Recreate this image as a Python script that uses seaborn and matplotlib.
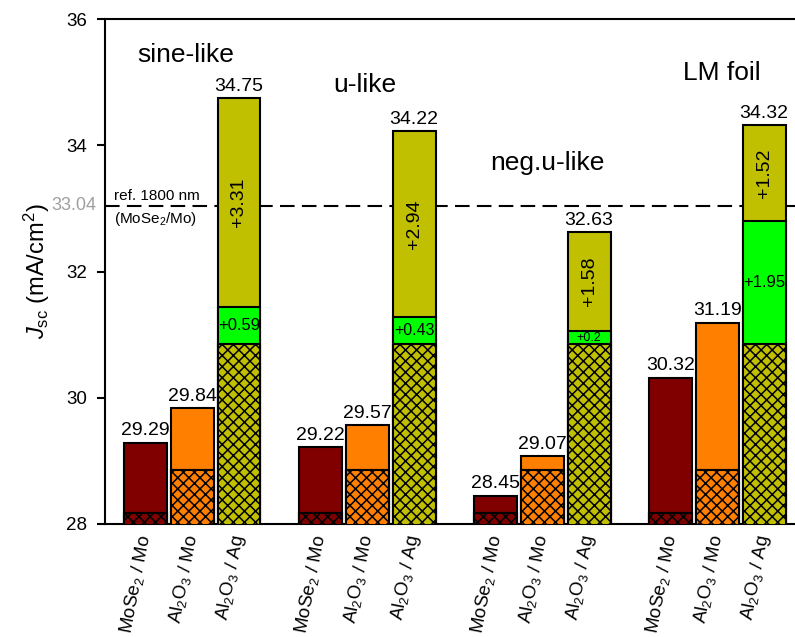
import numpy as np
import pandas as pd
import matplotlib
matplotlib.use("Agg")
import matplotlib.pyplot as plt
import seaborn as sns

# ---------------- data ----------------
groups = ["sine-like", "u-like", "neg.u-like", "LM foil"]
kinds = ["MoSe2/Mo", "Al2O3/Mo", "Al2O3/Ag"]
tick_labels = ["MoSe$_2$ / Mo", "Al$_2$O$_3$ / Mo", "Al$_2$O$_3$ / Ag"]

mose2_mo = [29.29, 29.22, 28.45, 30.32]
al2o3_mo = [29.84, 29.57, 29.07, 31.19]
al2o3_ag = [34.75, 34.22, 32.63, 34.32]
gain_green = [0.59, 0.43, 0.2, 1.95]
gain_olive = [3.31, 2.94, 1.58, 1.52]
base_mose2 = 28.17
base_al_mo = 28.85
base_al_ag = 30.85
ref_value = 33.04
y_ticks = [28, 30, 32, 34, 36]

# ---------------- style ----------------
sns.set_style("ticks")
plt.rcParams["font.family"] = ["Liberation Sans", "DejaVu Sans"]
plt.rcParams["mathtext.fontset"] = "custom"
plt.rcParams["mathtext.rm"] = "Liberation Sans"
plt.rcParams["mathtext.it"] = "Liberation Sans:italic"
plt.rcParams["mathtext.bf"] = "Liberation Sans:bold"
plt.rcParams["mathtext.default"] = "regular"
plt.rcParams["hatch.linewidth"] = 1.1
for key in ["text.color", "axes.labelcolor", "xtick.color", "ytick.color", "axes.edgecolor"]:
    plt.rcParams[key] = "black"

c_red = "#800000"
c_orange = "#FF8000"
c_olive = "#C0C000"
c_green = "#00FF00"

# ---------------- build tables ----------------
group_step = 3.75
rows = []
for gi, g in enumerate(groups):
    tops = [mose2_mo[gi], al2o3_mo[gi], al2o3_ag[gi]]
    mids = [base_mose2, base_al_mo, base_al_ag + gain_green[gi]]
    bases = [base_mose2, base_al_mo, base_al_ag]
    for ki, k in enumerate(kinds):
        rows.append(dict(pos=gi * group_step + ki, group=g, kind=k,
                         top=tops[ki], mid=mids[ki], base=bases[ki]))
df = pd.DataFrame(rows)

fig = plt.figure(figsize=(7.95, 6.37), dpi=100)
ax = fig.add_axes([105 / 795, 1 - 524 / 637, 690 / 795, 505 / 637])

pal_main = {"MoSe2/Mo": c_red, "Al2O3/Mo": c_orange, "Al2O3/Ag": c_olive}
pal_mid = {"MoSe2/Mo": c_red, "Al2O3/Mo": c_orange, "Al2O3/Ag": c_green}

common = dict(data=df, x="pos", hue="kind", native_scale=True, dodge=False,
              width=0.92, saturation=1, errorbar=None, legend=False,
              edgecolor="black", linewidth=1.5, ax=ax)
sns.barplot(y="top", palette=pal_main, zorder=3, **common)
sns.barplot(y="mid", palette=pal_mid, zorder=4, **common)
sns.barplot(y="base", palette=pal_main, hatch="xxx", zorder=5, **common)

# reference line
ax.axhline(ref_value, color="black", lw=1.5, ls=(0, (7, 3.5)), zorder=2)
ax.text(-0.68, ref_value + 0.04, "ref. 1800 nm", fontsize=11, ha="left", va="bottom", zorder=6)
ax.text(-0.68, ref_value - 0.06, "(MoSe$_2$/Mo)", fontsize=11, ha="left", va="top", zorder=6)
ax.annotate(f"{ref_value:.2f}", xy=(0, ref_value), xycoords=("axes fraction", "data"),
            xytext=(-6, 0), textcoords="offset points", ha="right", va="center",
            fontsize=13, color="#A0A0A0", annotation_clip=False)

# value labels
for _, r in df.iterrows():
    ax.text(r.pos, r.top + 0.05, f"{r.top:.2f}", ha="center", va="bottom", fontsize=14, zorder=6)

# gain labels
green_fs = [12, 11.5, 9, 12]
for gi in range(len(groups)):
    x = gi * group_step + 2
    g0 = base_al_ag
    g1 = g0 + gain_green[gi]
    ax.text(x, (g0 + g1) / 2, f"+{gain_green[gi]:g}", ha="center", va="center",
            fontsize=green_fs[gi], zorder=6)
    ax.text(x, (g1 + al2o3_ag[gi]) / 2, f"+{gain_olive[gi]:.2f}", ha="center", va="center",
            rotation=90, fontsize=14, zorder=6)

# group titles
title_pos = [(0.85, 35.43), (4.70, 34.96), (8.60, 33.72), (12.34, 35.15)]
for g, (tx, ty) in zip(groups, title_pos):
    ax.text(tx, ty, g, ha="center", va="center", fontsize=19, zorder=6)

# axes
ax.set_xlim(-0.87, 13.91)
ax.set_ylim(28, 36)
ax.set_yticks(y_ticks)
ax.set_yticklabels([str(t) for t in y_ticks], fontsize=13.5)
ax.set_xticks(df["pos"].tolist())
ax.set_xticklabels(tick_labels * len(groups), rotation=79, ha="right", va="center",
                   rotation_mode="anchor", fontsize=13.5)
ax.tick_params(axis="x", length=0, pad=8)
ax.tick_params(axis="y", direction="out", length=6, width=1.5, pad=7)
ax.set_xlabel("")
ax.set_ylabel(r"$\mathit{J}_{sc}$ (mA/cm$^2$)", fontsize=17, labelpad=10)
for s in ["left", "bottom", "top"]:
    ax.spines[s].set_linewidth(1.5)
    ax.spines[s].set_color("black")
ax.spines["right"].set_visible(False)

fig.savefig("out.png", dpi=100)
